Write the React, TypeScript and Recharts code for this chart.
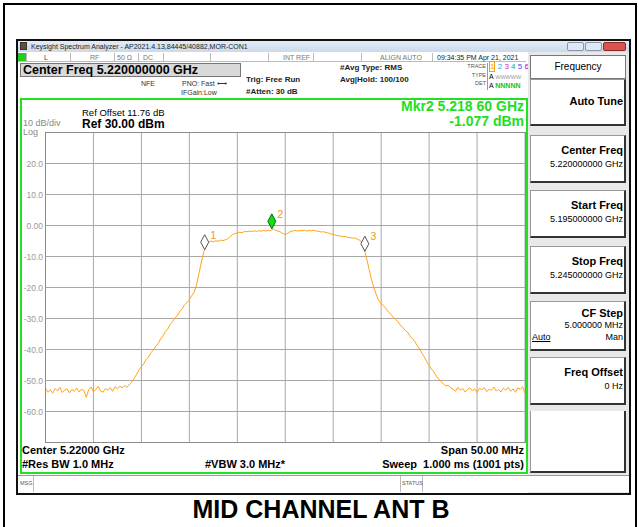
import React from "react";
import { LineChart, Line, XAxis, YAxis, CartesianGrid, ReferenceDot } from "recharts";

// sweep: 5.195 GHz -> 5.245 GHz, values every 0.25 MHz
const stepMHz = 0.25;

const levelsDbm = [
  -52.5, -53.8, -53.0, -54.1, -52.6, -53.4, -52.2, -53.9, -53.1, -52.7,
  -54.0, -52.9, -53.5, -52.4, -53.7, -52.8, -53.2, -55.4, -53.0, -52.1,
  -53.6, -52.9, -51.9, -53.4, -53.8, -52.6, -53.1, -52.3, -53.5, -52.0,
  -52.7, -51.8, -52.4, -51.6, -52.2, -51.2, -50.5, -49.3, -48.0, -46.6,
  -45.5, -44.6, -43.2, -42.4, -41.0, -40.2, -38.9, -38.1, -36.6, -35.6,
  -34.2, -33.4, -31.9, -31.0, -29.8, -29.1, -27.7, -26.9, -25.6, -24.9,
  -24.0, -22.6, -21.5, -19.2, -15.5, -11.8, -8.6, -6.3, -5.4, -5.0,
  -5.3, -4.9, -5.1, -4.7, -4.9, -4.6, -4.3, -3.6, -2.9, -2.6,
  -2.4, -2.2, -2.3, -1.9, -2.0, -1.8, -2.0, -1.7, -1.9, -1.7,
  -1.8, -1.6, -1.8, -1.5, -1.6, -1.1, -1.6, -1.8, -2.1, -2.6,
  -2.9, -2.5, -2.0, -1.8, -1.6, -1.8, -1.6, -1.7, -1.5, -1.8,
  -1.6, -1.7, -1.5, -1.8, -1.9, -2.1, -2.0, -2.3, -2.4, -2.7,
  -2.9, -3.1, -3.3, -3.4, -3.6, -3.5, -3.8, -3.9, -4.1, -4.0,
  -4.4, -4.7, -5.6, -7.9, -10.8, -14.2, -17.5, -20.1, -22.4, -24.2,
  -25.1, -25.9, -26.8, -27.9, -28.6, -29.5, -30.3, -31.0, -32.1, -32.9,
  -33.8, -34.4, -35.6, -36.5, -37.4, -38.7, -39.8, -41.2, -42.4, -43.9,
  -45.1, -46.3, -47.2, -48.6, -49.5, -50.4, -51.0, -51.8, -51.5, -52.4,
  -52.8, -53.5, -52.2, -53.1, -52.6, -53.7, -52.9, -52.4, -53.3, -52.7,
  -53.9, -52.5, -53.0, -52.3, -53.6, -52.8, -53.2, -52.1, -53.4, -52.9,
  -53.7, -52.5, -53.1, -52.2, -53.5, -52.7, -53.8, -52.4, -52.9, -52.0,
  -54.2,
];

// markers (MHz from start, dBm)
const markerIds = ["1", "2", "3"];
const markerOffsetsMHz = [16.6, 23.6, 33.3];
const markerLevels = [-7.8, -1.08, -8.3];

const yTicks = [30, 20, 10, 0, -10, -20, -30, -40, -50, -60, -70];
const xTicks = [0, 5, 10, 15, 20, 25, 30, 35, 40, 45, 50];

const data = levelsDbm.map((v, i) => ({ f: i * stepMHz, v }));

const FONT = 'Arial, "Liberation Sans", sans-serif';

function T({ x, y, size = 9, bold = false, color = "#000", right = false, children, style = {} }: any) {
  const pos: any = right ? { right: 639 - x } : { left: x };
  return (
    <div
      style={{
        position: "absolute",
        top: y,
        ...pos,
        fontSize: size,
        fontWeight: bold ? "bold" : "normal",
        color,
        lineHeight: 1,
        whiteSpace: "nowrap",
        fontFamily: FONT,
        ...style,
      }}
    >
      {children}
    </div>
  );
}

function Box({ x, y, w, h, style = {} }: any) {
  return <div style={{ position: "absolute", left: x, top: y, width: w, height: h, boxSizing: "border-box", ...style }} />;
}

const MarkerShape = (id: string) => (props: any) => {
  const { cx, cy } = props;
  const active = id === "2";
  const pts = `${cx},${cy} ${cx + 4},${cy - 7.5} ${cx},${cy - 15} ${cx - 4},${cy - 7.5}`;
  return (
    <g>
      <polygon points={pts} fill={active ? "#10e010" : "#fff"} stroke={active ? "#0a6a0a" : "#555"} strokeWidth={1} />
      <text x={cx + 5.5} y={cy - 11} fill="#f39c12" fontSize={11} fontFamily={FONT}>
        {id}
      </text>
    </g>
  );
};

function SoftKey({ y, h, title, value, extra, titleDy = 10, valueDy = 25 }: any) {
  return (
    <>
      <Box x={530} y={y} w={96} h={h} style={{ background: "#fff", borderTop: "1px solid #999", borderLeft: "1px solid #999", borderRight: "2px solid #333", borderBottom: "2px solid #333" }} />
      <T x={623} y={y + titleDy} size={11} bold right>
        {title}
      </T>
      {value && (
        <T x={623} y={y + valueDy} size={9} right>
          {value}
        </T>
      )}
      {extra}
    </>
  );
}

export default function App() {
  const yFmt = (v: number) => (v === 30 || v === -70 ? "" : v === 0 ? "0.00" : v.toFixed(1));
  return (
    <div style={{ position: "absolute", left: 0, top: 0, width: 639, height: 527, background: "#fff", overflow: "hidden", fontFamily: FONT }}>
      {/* page frame */}
      <Box x={3} y={3} w={634} h={540} style={{ border: "2px solid #000" }} />

      {/* window */}
      <Box x={16} y={39} w={615} h={456} style={{ border: "2px solid #111", background: "#fff" }} />
      <Box x={18} y={41} w={611} h={11} style={{ background: "linear-gradient(#e3ecf7, #cbd9ec)" }} />
      <Box x={20} y={42} w={7} h={8} style={{ background: "#6b4f2a", border: "1px solid #333" }} />
      <T x={31} y={43} size={7} color="#222">
        Keysight Spectrum Analyzer - AP2021.4.13,84445/40882,MOR-CON1
      </T>
      <Box x={567} y={42} w={17} h={9} style={{ background: "#dfe8f3", border: "1px solid #8796ad", borderRadius: 2 }} />
      <Box x={585} y={42} w={17} h={9} style={{ background: "#dfe8f3", border: "1px solid #8796ad", borderRadius: 2 }} />
      <Box x={603} y={42} w={23} h={9} style={{ background: "#d9534f", border: "1px solid #8a2a26", borderRadius: 2 }} />

      {/* status row */}
      <Box x={18} y={52} w={508} h={10} style={{ borderBottom: "1px solid #bbb" }} />
      <Box x={18} y={53} w={8} h={8} style={{ background: "#22cc22" }} />
      {[26, 70, 114, 138, 163, 210, 268, 313, 361, 432].map((x) => (
        <Box key={x} x={x} y={53} w={1} h={9} style={{ background: "#bbb" }} />
      ))}
      <T x={44} y={54} size={7} color="#444">L</T>
      <T x={90} y={54} size={7} color="#777">RF</T>
      <T x={117} y={54} size={7} color="#777">50 Ω</T>
      <T x={143} y={54} size={7} color="#777">DC</T>
      <T x={283} y={54} size={7} color="#777">INT REF</T>
      <T x={380} y={54} size={7} color="#777">ALIGN AUTO</T>
      <T x={437} y={54} size={7} color="#222">09:34:35 PM Apr 21, 2021</T>

      {/* header */}
      <Box x={20} y={63} w={221} h={14} style={{ background: "#d9d9d9", border: "1px solid #777" }} />
      <T x={23} y={64} size={12.5} bold>Center Freq 5.220000000 GHz</T>
      <T x={141} y={80} size={7} color="#333">NFE</T>
      <T x={182} y={80} size={7} color="#333">PNO: Fast ⟷</T>
      <T x={181} y={89} size={7} color="#333">IFGain:Low</T>
      <T x={246} y={76} size={8} bold color="#222">Trig: Free Run</T>
      <T x={246} y={88} size={8} bold color="#222">#Atten: 30 dB</T>
      <T x={340} y={64} size={8} bold color="#222">#Avg Type: RMS</T>
      <T x={340} y={76} size={8} bold color="#222">Avg|Hold: 100/100</T>
      <T x={486} y={64} size={5.5} color="#555" right>TRACE</T>
      <T x={486} y={73} size={5.5} color="#555" right>TYPE</T>
      <T x={486} y={81} size={5.5} color="#555" right>DET</T>
      <Box x={487} y={63} w={1} h={27} style={{ background: "#999" }} />
      <T x={489} y={63} size={8}>
        <span style={{ color: "#f0a000", border: "1px solid #f0a000" }}>1</span>{" "}
        <span style={{ color: "#00b8e0" }}>2</span> <span style={{ color: "#d020d0" }}>3</span>{" "}
        <span style={{ color: "#20b040" }}>4</span> <span style={{ color: "#3050ff" }}>5</span>{" "}
        <span style={{ color: "#c000c0" }}>6</span>
      </T>
      <T x={489} y={73} size={7}>
        A <span style={{ color: "#999", fontSize: 5.5 }}>WWWWW</span>
      </T>
      <T x={489} y={82} size={7}>
        A <span style={{ color: "#20c020", fontWeight: "bold" }}>NNNNN</span>
      </T>

      {/* right panel */}
      <Box x={528} y={52} w={101} h={441} style={{ background: "#e8e8e8" }} />
      <Box x={530} y={55} w={96} h={24} style={{ background: "#fff", border: "1px solid #777" }} />
      <T x={578} y={62} size={10} style={{ transform: "translateX(-50%)" }}>Frequency</T>
      <SoftKey y={79} h={47} title="Auto Tune" titleDy={17} />
      <SoftKey y={135} h={48} title="Center Freq" value="5.220000000 GHz" />
      <SoftKey y={190} h={48} title="Start Freq" value="5.195000000 GHz" />
      <SoftKey y={246} h={48} title="Stop Freq" value="5.245000000 GHz" />
      <SoftKey
        y={301}
        h={50}
        title="CF Step"
        value="5.000000 MHz"
        titleDy={7}
        valueDy={20}
        extra={
          <>
            <T x={532} y={333} size={9} style={{ textDecoration: "underline" }}>Auto</T>
            <T x={623} y={333} size={9} right>Man</T>
          </>
        }
      />
      <SoftKey y={357} h={48} title="Freq Offset" value="0 Hz" />
      <Box x={530} y={411} w={96} h={62} style={{ background: "#fff", borderRight: "2px solid #333", borderBottom: "2px solid #333", borderLeft: "1px solid #999" }} />

      {/* measurement frame */}
      <Box x={20} y={98} w={508} h={376} style={{ border: "2px solid #22e022", background: "#fff" }} />
      <T x={82} y={108} size={9.5}>Ref Offset 11.76 dB</T>
      <T x={82} y={118} size={12} bold>Ref 30.00 dBm</T>
      <T x={23} y={119} size={9} color="#8a8a8a">10 dB/div</T>
      <T x={23} y={128} size={9} color="#8a8a8a">Log</T>
      <T x={524} y={99} size={14} bold color="#22dd22" right>Mkr2 5.218 60 GHz</T>
      <T x={524} y={114} size={14} bold color="#22dd22" right>-1.077 dBm</T>

      <LineChart
        width={507}
        height={320}
        data={data}
        margin={{ top: 4.5, right: 2, bottom: 5.5, left: 0 }}
        style={{ position: "absolute", left: 20, top: 128 }}
      >
        <CartesianGrid stroke="#a8a8a8" strokeWidth={1} />
        <XAxis dataKey="f" type="number" domain={[0, 50]} ticks={xTicks} hide />
        <YAxis
          type="number"
          domain={[-70, 30]}
          ticks={yTicks}
          interval={0}
          width={25.5}
          axisLine={false}
          tickLine={false}
          tickSize={0}
          tickMargin={2.5}
          tick={{ fill: "#9a9a9a", fontSize: 8.5, fontFamily: FONT }}
          tickFormatter={yFmt}
        />
        <Line dataKey="v" stroke="#ffa31a" strokeWidth={1} dot={false} isAnimationActive={false} />
        {markerIds.map((id, i) => (
          <ReferenceDot key={id} x={markerOffsetsMHz[i]} y={markerLevels[i]} r={4} shape={MarkerShape(id)} />
        ))}
      </LineChart>
      <Box x={45} y={132} w={481} h={311} style={{ border: "1.5px solid #8c8c8c", pointerEvents: "none" }} />

      <T x={22} y={445} size={11} bold>Center 5.22000 GHz</T>
      <T x={22} y={459} size={11} bold>#Res BW 1.0 MHz</T>
      <T x={205} y={459} size={11} bold>#VBW 3.0 MHz*</T>
      <T x={524} y={445} size={11} bold right>Span 50.00 MHz</T>
      <T x={524} y={459} size={11} bold right>Sweep&nbsp;&nbsp;1.000 ms (1001 pts)</T>

      {/* message row */}
      <Box x={18} y={475} w={611} h={17} style={{ borderTop: "1px solid #999", background: "#fff" }} />
      <Box x={33} y={476} w={1} h={16} style={{ background: "#bbb" }} />
      <Box x={400} y={476} w={1} h={16} style={{ background: "#bbb" }} />
      <Box x={422} y={476} w={1} h={16} style={{ background: "#bbb" }} />
      <T x={20} y={481} size={5.5} color="#555">MSG</T>
      <T x={402} y={481} size={5.5} color="#555">STATUS</T>

      <T x={321} y={497} size={25} bold style={{ transform: "translateX(-50%)" }}>
        MID CHANNEL ANT B
      </T>
    </div>
  );
}
